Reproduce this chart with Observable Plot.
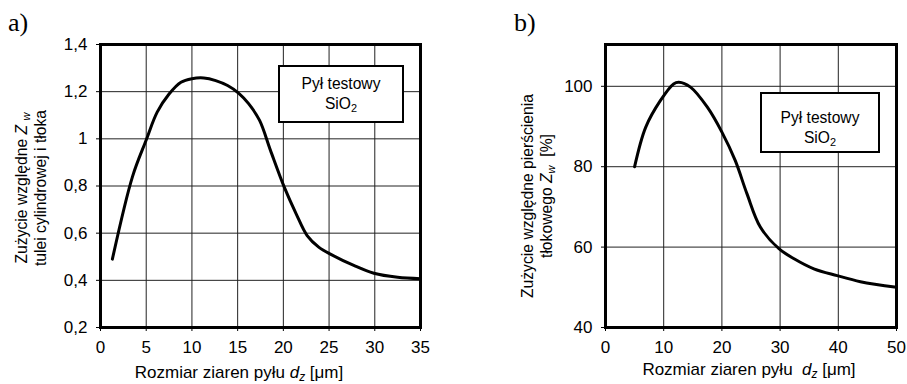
<!DOCTYPE html>
<html>
<head>
<meta charset="utf-8">
<script src="https://cdn.jsdelivr.net/npm/d3@7"></script>
<script src="https://cdn.jsdelivr.net/npm/@observablehq/plot@0.6"></script>
<style>
  html, body { margin: 0; padding: 0; background: #fff; }
  #wrap { position: relative; width: 907px; height: 384px; background: #fff;
          font-family: "Liberation Sans", Arial, sans-serif; color: #000; }
  .panel { position: absolute; top: 0; }
  .tag { position: absolute; font-family: "Liberation Serif", "Times New Roman", serif; font-size: 26px; line-height: 1; }
  .ylab { position: absolute; width: 320px; height: 38px; text-align: center;
          font-size: 15.7px; line-height: 19px; transform: rotate(-90deg); white-space: nowrap; }
  .xlab { position: absolute; width: 300px; text-align: center; font-size: 17px; line-height: 1; white-space: nowrap; }
  .key { position: absolute; box-sizing: border-box; border: 2px solid #000; background: #fff;
         text-align: center; font-size: 15.6px; line-height: 20px; }
  sub { font-size: 0.7em; vertical-align: -0.25em; line-height: 0; }
  sub.it { font-style: italic; }
</style>
</head>
<body>
<div id="wrap">
  <div class="panel" id="chartA" style="left:0"></div>
  <div class="panel" id="chartB" style="left:460px"></div>

  <div class="tag" style="left:8px; top:10px">a)</div>
  <div class="tag" style="left:514px; top:10px">b)</div>

  <div class="ylab" style="left:-129px; top:169px">Zużycie względne <i>Z</i> <sub class="it">w</sub><br>tulei cylindrowej i tłoka</div>
  <div class="ylab" style="left:377px; top:177px">Zużycie względne pierścienia<br>tłokowego <i>Z</i><sub class="it">w</sub>&nbsp; [%]</div>

  <div class="xlab" style="left:89px; top:364px">Rozmiar ziaren pyłu <i>d</i><sub class="it">z</sub> [μm]</div>
  <div class="xlab" style="left:599px; top:361px">Rozmiar ziaren pyłu&nbsp; <i>d</i><sub class="it">z</sub> [μm]</div>

  <div class="key" style="left:278px; top:65px; width:126px; height:58px; padding-top:7px">Pył testowy<br>SiO<sub>2</sub></div>
  <div class="key" style="left:760px; top:92px; width:120px; height:61px; padding-top:14px">Pył testowy<br>SiO<sub>2</sub></div>
</div>

<script>
// Panel a: relative wear of cylinder liner and piston vs. dust grain size
const sizeA = [1.3, 3.5, 5.0, 6.2, 7.5, 8.8, 10.0, 11.3, 12.6, 13.9, 15.1, 16.2, 17.4, 18.6, 20.1, 21.4, 22.6, 23.9, 25.2, 27.7, 29.9, 32.5, 35.0];
const wearA = [0.49, 0.84, 0.995, 1.113, 1.19, 1.24, 1.255, 1.258, 1.247, 1.226, 1.194, 1.149, 1.078, 0.95, 0.795, 0.682, 0.59, 0.54, 0.51, 0.463, 0.43, 0.413, 0.407];
const xTicksA = [0, 5, 10, 15, 20, 25, 30, 35];
const yTicksA = [0.2, 0.4, 0.6, 0.8, 1, 1.2, 1.4];

// Panel b: relative wear of piston ring [%] vs. dust grain size
const sizeB = [5.0, 6.9, 9.45, 11.7, 12.6, 14.6, 17.5, 20.0, 22.3, 24.3, 26.6, 29.8, 32.4, 35.8, 39.8, 43.8, 50.0];
const wearB = [80, 89.8, 96.5, 100.6, 101.0, 99.8, 94.8, 88.6, 81.5, 73.3, 65.0, 59.6, 57.1, 54.6, 52.9, 51.4, 50.0];
const xTicksB = [0, 10, 20, 30, 40, 50];
const yTicksB = [40, 60, 80, 100];

const comma = d => String(d).replace(".", ",");

function panel({x, y, xTicks, yTicks, xDomain, yDomain, width, marginLeft, marginRight, yFormat}) {
  const data = x.map((v, i) => ({size: v, wear: y[i]}));
  return Plot.plot({
    width, height: 384,
    marginLeft, marginRight, marginTop: 44, marginBottom: 57,
    style: {fontFamily: "'Liberation Sans', Arial, sans-serif", fontSize: "17px", background: "transparent", color: "#000"},
    x: {domain: xDomain, ticks: xTicks, label: null},
    y: {domain: yDomain, ticks: yTicks, label: null},
    marks: [
      Plot.gridX(xTicks, {stroke: "#222", strokeOpacity: 1, strokeWidth: 1}),
      Plot.gridY(yTicks, {stroke: "#222", strokeOpacity: 1, strokeWidth: 1}),
      Plot.axisX(xTicks, {tickSize: 4, tickPadding: 9, label: null, fontSize: 17}),
      Plot.axisY(yTicks, {tickSize: 4, tickPadding: 9, label: null, tickFormat: yFormat, fontSize: 17}),
      Plot.line(data, {x: "size", y: "wear", stroke: "#000", strokeWidth: 3, curve: "catmull-rom", strokeLinejoin: "round"}),
      Plot.frame({stroke: "#000", strokeWidth: 3})
    ]
  });
}

document.getElementById("chartA").append(panel({
  x: sizeA, y: wearA, xTicks: xTicksA, yTicks: yTicksA,
  xDomain: [0, 35], yDomain: [0.2, 1.4],
  width: 460, marginLeft: 100, marginRight: 40, yFormat: comma
}));

document.getElementById("chartB").append(panel({
  x: sizeB, y: wearB, xTicks: xTicksB, yTicks: yTicksB,
  xDomain: [0, 50], yDomain: [40, 110.4],
  width: 447, marginLeft: 145, marginRight: 11, yFormat: d => String(d)
}));
</script>
</body>
</html>
